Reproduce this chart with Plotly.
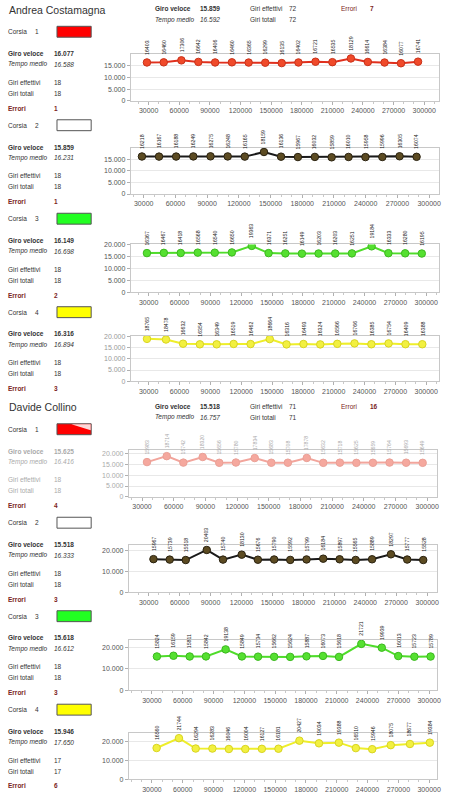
import plotly.graph_objects as go
from itertools import accumulate

W, H = 449, 799

# ---------------- data ----------------
drivers = ["Andrea Costamagna", "Davide Collino"]
hdr_giro_veloce = ["15.859", "15.518"]
hdr_tempo_medio = ["16.592", "16.757"]
hdr_giri_effettivi = ["72", "71"]
hdr_giri_totali = ["72", "71"]
hdr_errori = ["7", "16"]

lanes = ["1", "2", "3", "4"]
giro_veloce = [["16.077", "15.859", "16.149", "16.316"], ["15.625", "15.518", "15.618", "15.946"]]
tempo_medio = [["16.588", "16.231", "16.698", "16.894"], ["16.416", "16.333", "16.612", "17.650"]]
giri_effettivi = [["18", "18", "18", "18"], ["18", "18", "18", "17"]]
giri_totali = [["18", "18", "18", "18"], ["18", "18", "18", "17"]]
errori = [["1", "1", "2", "3"], ["4", "3", "3", "6"]]

andrea_c1 = [16403, 16460, 17306, 16642, 16406, 16460, 16365, 16299, 16135, 16402, 16721, 16535, 18129, 16614, 16384, 16077, 16741]
andrea_c2 = [16218, 16167, 16188, 16249, 16275, 16248, 16165, 18159, 16136, 15967, 16032, 15859, 16010, 15958, 15996, 16305, 16074]
andrea_c3 = [16367, 16467, 16418, 16568, 16540, 16650, 19363, 16371, 16251, 16149, 16203, 16203, 16251, 19184, 16333, 16280, 16195]
andrea_c4 = [18765, 18478, 16632, 16354, 16349, 16519, 16462, 18664, 16316, 16493, 16324, 16566, 16766, 16385, 16754, 16409, 16388]
davide_c1 = [15983, 18714, 15742, 18320, 15656, 15780, 17834, 15683, 15708, 17878, 15632, 15718, 15625, 15659, 15764, 15693, 15649]
davide_c2 = [15967, 15739, 15518, 20403, 15740, 18130, 15676, 15790, 15592, 15799, 16184, 15897, 15565, 15889, 18297, 15777, 15528]
davide_c3 = [15824, 16159, 15811, 15842, 19138, 15849, 15734, 15662, 15624, 15887, 16073, 15618, 21721, 19939, 16013, 15723, 15789]
davide_c4 = [16560, 21744, 16294, 16283, 16046, 16004, 16127, 16181, 20427, 19034, 19388, 16510, 15946, 18075, 18677, 19384]
# first (partial) lap time before the plotted laps
start_lap = [[11900, 12100, 11950, 9600], [18700, 18700, 19000, 18000]]

x_tick_vals = [30000, 60000, 90000, 120000, 150000, 180000, 210000, 240000, 270000, 300000]

series = [andrea_c1, andrea_c2, andrea_c3, andrea_c4, davide_c1, davide_c2, davide_c3, davide_c4]

# ---------------- styles / geometry ----------------
line_colors = ["#e0301e", "#1a1a1a", "#4fdc2a", "#eeee2a", "#f2a59c", "#1a1a1a", "#4fdc2a", "#eeee2a"]
marker_colors = ["#f04a2a", "#5c4b22", "#55e030", "#f2f040", "#f5a89e", "#5c4b22", "#55e030", "#f2f040"]
marker_line = ["#c8321a", "#2a2210", "#3cb820", "#d8d420", "#eaa096", "#2a2210", "#3cb820", "#d8d420"]
label_colors = ["#222", "#222", "#222", "#222", "#aaa", "#222", "#222", "#222"]
tick_colors = ["#555", "#555", "#555", "#999", "#aaa", "#555", "#555", "#555"]
box_colors = ["#ff0000", "#ffffff", "#22ff22", "#ffff00"]

# pixel geometry: left, right, top, zero, ymax, pix(30000), pix(300000)
geo = [
    (132, 443, 50.5, 97.7, 20000, 150, 428),
    (132, 443, 145, 191.7, 20000, 145, 433),
    (132, 443, 242.5, 291, 20000, 150, 430),
    (132, 443, 335, 380.7, 20000, 150, 430),
    (130, 441, 450, 497.3, 21500, 143.3, 431),
    (130, 441, 546, 593.3, 22700, 150, 431),
    (130, 441, 641.7, 692.3, 23500, 153.3, 433),
    (130, 441, 735, 782.3, 24700, 153.3, 433),
]
ytick_sets = [
    [0, 5000, 10000, 15000], [0, 5000, 10000, 15000],
    [0, 5000, 10000, 15000, 20000], [0, 5000, 10000, 15000, 20000],
    [0, 5000, 10000, 15000, 20000], [0, 10000, 20000],
    [0, 10000, 20000], [0, 10000, 20000],
]

FONT = "Liberation Sans, Arial, sans-serif"

def px(x):
    return x / W

def py(y):
    return 1 - y / H

fig = go.Figure()
annotations = []
shapes = []
layout_axes = {}

for i, laps in enumerate(series):
    d, k = divmod(i, 4)
    xs = list(accumulate(laps, initial=start_lap[d][k]))[1:]
    n = i + 1
    xa = "x" if n == 1 else f"x{n}"
    ya = "y" if n == 1 else f"y{n}"
    fig.add_trace(go.Scatter(
        x=xs, y=laps, mode="lines+markers", xaxis=xa, yaxis=ya,
        line=dict(color=line_colors[i], width=2),
        marker=dict(size=7.5, color=marker_colors[i], line=dict(color=marker_line[i], width=1)),
        showlegend=False, hoverinfo="x+y",
    ))
    left, right, top, zero, ymax, p30, p300 = geo[i]
    scale = 270000 / (p300 - p30)
    xmin = 30000 - (p30 - left) * scale
    xmax = 300000 + (right - p300) * scale
    layout_axes["xaxis" if n == 1 else f"xaxis{n}"] = dict(
        domain=[px(left), px(right)], anchor=ya, range=[xmin, xmax],
        tickvals=x_tick_vals, tickformat="d", showgrid=False, zeroline=False,
        showline=True, linecolor="#c8c8c8", mirror=True, ticks="outside", ticklen=3,
        tickcolor="#b0b0b0", tickfont=dict(size=7, color="#555", family=FONT),
        minor=dict(ticks="outside", ticklen=2, tickcolor="#c8c8c8", dtick=10000, tick0=0),
    )
    layout_axes["yaxis" if n == 1 else f"yaxis{n}"] = dict(
        domain=[py(zero), py(top)], anchor=xa, range=[0, ymax],
        tickvals=ytick_sets[i], tickformat=",d", showgrid=True, gridcolor="#e8e8e8",
        zeroline=False, showline=True, linecolor="#c8c8c8", mirror=True,
        ticks="outside", ticklen=3, tickcolor="#b0b0b0",
        tickfont=dict(size=7, color=tick_colors[i], family=FONT),
    )
    for xv, yv in zip(xs, laps):
        annotations.append(dict(
            x=xv, y=yv, xref=xa, yref=ya, text=str(yv), textangle=-90,
            showarrow=False, yanchor="bottom", xanchor="center", yshift=6,
            font=dict(size=5.2, color=label_colors[i], family=FONT),
        ))

def txt(x, y, s, size=6.5, color="#333", bold=False, italic=False):
    if bold:
        s = f"<b>{s}</b>"
    if italic:
        s = f"<i>{s}</i>"
    annotations.append(dict(
        x=px(x), y=py(y), xref="paper", yref="paper", text=s, showarrow=False,
        xanchor="left", yanchor="middle", font=dict(size=size, color=color, family=FONT),
    ))

RED = "#7a2323"
for d in range(2):
    off = 0 if d == 0 else 401
    txt(7, 6 + off, drivers[d], size=10.5, color="#333")
    txt(154, 5 + off, "Giro veloce", bold=True)
    txt(200, 5 + off, hdr_giro_veloce[d], bold=True)
    txt(154, 16 + off, "Tempo medio", italic=True)
    txt(200, 16 + off, hdr_tempo_medio[d], italic=True)
    txt(250, 5 + off, "Giri effettivi")
    txt(290, 5 + off, hdr_giri_effettivi[d])
    txt(250, 16 + off, "Giri totali")
    txt(290, 16 + off, hdr_giri_totali[d])
    txt(342, 5 + off, "Errori", color=RED)
    txt(371, 5 + off, hdr_errori[d], bold=True, color=RED)
    for k in range(4):
        base = 28 + 94.3 * k + off
        fade = (d == 1 and k == 0)
        c = "#aaa" if fade else "#333"
        txt(6, base, "Corsia")
        txt(33, base, lanes[k])
        shapes.append(dict(type="rect", xref="paper", yref="paper",
                           x0=px(57.5), x1=px(92), y0=py(base + 5.5), y1=py(base - 5.5),
                           fillcolor=box_colors[k], line=dict(color="#555", width=1)))
        if fade:
            # light glare wedge seen on this lane box
            shapes.append(dict(
                type="path", xref="paper", yref="paper",
                path=(f"M {px(72)} {py(base - 5)} L {px(91.5)} {py(base - 5)} "
                      f"L {px(91.5)} {py(base + 1)} Z"),
                fillcolor="#fbd9d9", line=dict(width=0)))
        txt(6, base + 22, "Giro veloce", bold=True, color=c)
        txt(52, base + 22, giro_veloce[d][k], bold=True, color=c)
        txt(6, base + 33, "Tempo medio", italic=True, color=c)
        txt(52, base + 33, tempo_medio[d][k], italic=True, color=c)
        txt(6, base + 51, "Giri effettivi", color=c)
        txt(52, base + 51, giri_effettivi[d][k], color=c)
        txt(6, base + 62, "Giri totali", color=c)
        txt(52, base + 62, giri_totali[d][k], color=c)
        txt(6, base + 77, "Errori", bold=True, color=RED)
        txt(52, base + 77, errori[d][k], bold=True, color=RED)

fig.update_layout(
    width=W, height=H, autosize=False,
    margin=dict(l=0, r=0, t=0, b=0),
    paper_bgcolor="white", plot_bgcolor="white",
    separators=",.",
    annotations=annotations, shapes=shapes,
    **layout_axes,
)
fig.write_html("out.html", config={"displayModeBar": False},
               post_script="document.body.style.margin='0';document.body.style.overflow='hidden';")
